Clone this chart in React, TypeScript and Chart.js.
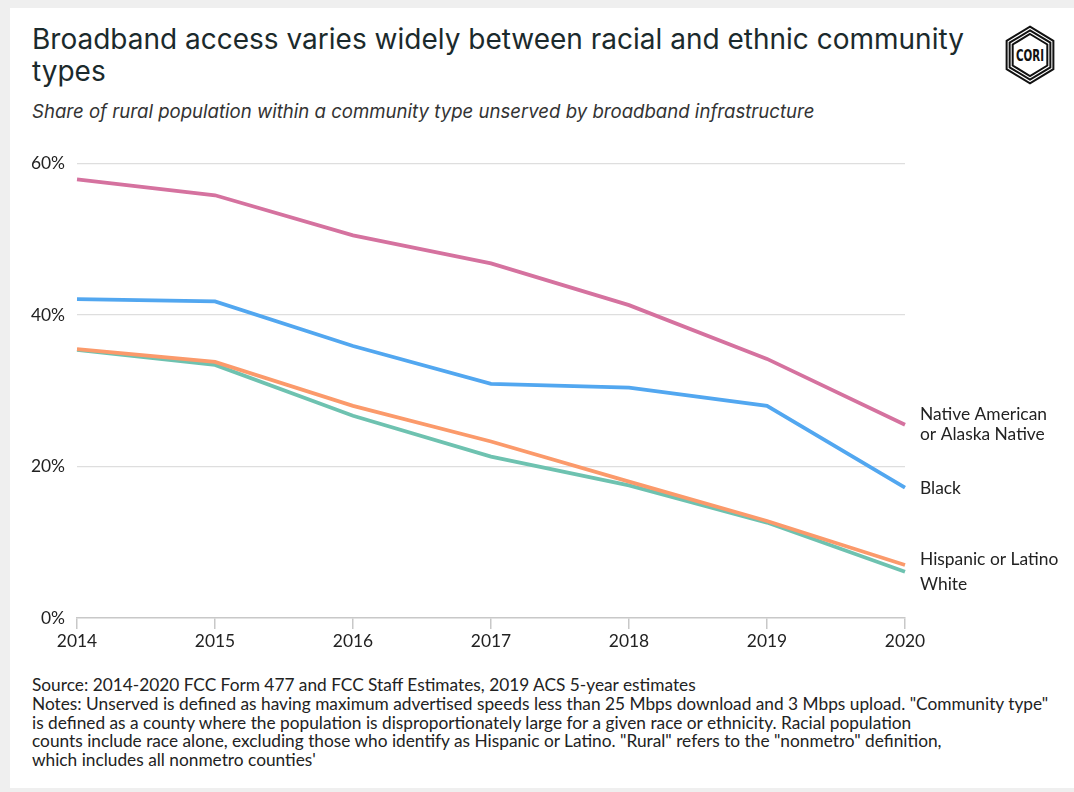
import React, { useEffect, useRef } from "react";
import { Chart, registerables } from "chart.js";

Chart.register(...registerables);

const years = ["2014", "2015", "2016", "2017", "2018", "2019", "2020"];
const nativeAmerican = [57.9, 55.8, 50.5, 46.8, 41.3, 34.2, 25.5];
const black = [42.1, 41.8, 35.9, 30.9, 30.4, 28.0, 17.2];
const hispanic = [35.5, 33.8, 28.0, 23.3, 18.0, 12.8, 7.0];
const white = [35.4, 33.4, 26.7, 21.3, 17.5, 12.6, 6.1];
const seriesNames = ["Native American or Alaska Native", "Black", "Hispanic or Latino", "White"];
const endLabels = [["Native American", "or Alaska Native"], ["Black"], ["Hispanic or Latino"], ["White"]];
const yTicks = [0, 20, 40, 60];

const labelOffsets = [0, 1, -6, 13];
const colors = ["#d5729f", "#52a7f0", "#fb9a6b", "#6ec2b0"];

const endLabelPlugin = {
  id: "endLabels",
  afterDatasetsDraw(chart: any) {
    const ctx = chart.ctx;
    ctx.save();
    ctx.font = "17.4px Lato";
    ctx.fillStyle = "#222";
    ctx.textBaseline = "middle";
    ctx.textAlign = "left";
    chart.data.datasets.forEach((ds: any, i: number) => {
      const meta = chart.getDatasetMeta(i);
      const pt = meta.data[meta.data.length - 1];
      const lines = endLabels[i];
      const lh = 20;
      const startY = pt.y + labelOffsets[i] - ((lines.length - 1) * lh) / 2;
      lines.forEach((t: string, j: number) => {
        ctx.fillText(t, pt.x + 15, startY + j * lh);
      });
    });
    ctx.restore();
  },
};

function CoriLogo() {
  const hex = (r: number) => {
    const pts: string[] = [];
    for (let k = 0; k < 6; k++) {
      const a = (Math.PI / 3) * k - Math.PI / 2;
      pts.push(`${(Math.cos(a) * r).toFixed(2)},${(Math.sin(a) * r * 1.05).toFixed(2)}`);
    }
    return pts.join(" ");
  };
  return (
    <svg width="60" height="64" viewBox="-30 -32 60 64" style={{ position: "absolute", left: 1000, top: 23 }}>
      {[27, 23.5, 20].map((r) => (
        <polygon key={r} points={hex(r)} fill="none" stroke="#111" strokeWidth="2" />
      ))}
      <rect x="-16" y="-9" width="32" height="18" fill="#fff" />
      <text
        x="0"
        y="6"
        textAnchor="middle"
        fontFamily="'DejaVu Sans Condensed', 'DejaVu Sans', sans-serif"
        fontWeight="bold"
        fontSize="15"
        fill="#111"
        textLength="28"
        lengthAdjust="spacingAndGlyphs"
      >
        CORI
      </text>
    </svg>
  );
}

export default function App() {
  const ref = useRef<HTMLCanvasElement>(null);

  useEffect(() => {
    if (!ref.current) return;
    const data = [nativeAmerican, black, hispanic, white];
    const chart = new Chart(ref.current, {
      type: "line",
      data: {
        labels: years,
        datasets: data.map((d, i) => ({
          label: seriesNames[i],
          data: d,
          borderColor: colors[i],
          backgroundColor: colors[i],
          borderWidth: 3.8,
          pointRadius: 0,
          tension: 0,
          fill: false,
        })),
      },
      options: {
        animation: false,
        responsive: false,
        maintainAspectRatio: false,
        layout: { padding: { top: 3, right: 169, bottom: 0, left: 0 } },
        plugins: {
          legend: { display: false },
          tooltip: { enabled: false },
          title: { display: false },
        },
        scales: {
          x: {
            type: "category",
            offset: false,
            grid: {
              drawOnChartArea: false,
              drawTicks: true,
              tickLength: 11,
              color: "#c8c8c8",
              lineWidth: 1.5,
            },
            border: { display: true, color: "#c8c8c8", width: 1.5 },
            ticks: {
              color: "#222",
              font: { family: "Lato", size: 17.4 },
              padding: 2,
              maxRotation: 0,
              autoSkip: false,
            },
            afterFit(scale: any) {
              scale.height = 42;
            },
          },
          y: {
            min: 0,
            max: 60,
            afterBuildTicks(scale: any) {
              scale.ticks = yTicks.map((v) => ({ value: v }));
            },
            grid: {
              drawTicks: false,
              color: (c: any) => (c.tick && c.tick.value === 0 ? "rgba(0,0,0,0)" : "#dedede"),
              lineWidth: 1.2,
            },
            border: { display: false },
            ticks: {
              color: "#222",
              font: { family: "Lato", size: 17.4 },
              padding: 12,
              callback: (v: any) => `${v}%`,
            },
            afterFit(scale: any) {
              scale.width = 67;
            },
          },
        },
      },
      plugins: [endLabelPlugin],
    });
    return () => chart.destroy();
  }, []);

  const notes = [
    "Source: 2014-2020 FCC Form 477 and FCC Staff Estimates, 2019 ACS 5-year estimates",
    'Notes: Unserved is defined as having maximum advertised speeds less than 25 Mbps download and 3 Mbps upload. "Community type"',
    "is defined as a county where the population is disproportionately large for a given race or ethnicity. Racial population",
    'counts include race alone, excluding those who identify as Hispanic or Latino. "Rural" refers to the "nonmetro" definition,',
    "which includes all nonmetro counties'",
  ];

  return (
    <div style={{ position: "absolute", left: 0, top: 0, width: 1074, height: 792, background: "#efefef", overflow: "hidden" }}>
      <div style={{ position: "absolute", left: 10, top: 8, width: 1064, height: 780, background: "#fff" }}>
        <div
          style={{
            position: "absolute",
            left: 22,
            top: 15,
            width: 960,
            fontFamily: "Inter, 'Noto Sans', sans-serif",
            fontSize: 28,
            lineHeight: "32px",
            color: "#1b2a2c",
            fontWeight: 400,
          }}
        >
          Broadband access varies widely between racial and ethnic community types
        </div>
        <div
          style={{
            position: "absolute",
            left: 22,
            top: 92,
            fontFamily: "Inter, 'Noto Sans', sans-serif",
            fontSize: 18.6,
            fontStyle: "italic",
            color: "#333",
            whiteSpace: "nowrap",
          }}
        >
          Share of rural population within a community type unserved by broadband infrastructure
        </div>
        <div
          style={{
            position: "absolute",
            left: 22,
            top: 668,
            fontFamily: "Lato, sans-serif",
            fontSize: 17.3,
            lineHeight: "18.8px",
            color: "#222",
          }}
        >
          {notes.map((n, i) => (
            <div key={i} style={{ whiteSpace: "nowrap" }}>
              {n}
            </div>
          ))}
        </div>
      </div>
      <canvas ref={ref} width={1064} height={519} style={{ position: "absolute", left: 10, top: 141, width: 1064, height: 519 }} />
      <CoriLogo />
    </div>
  );
}
